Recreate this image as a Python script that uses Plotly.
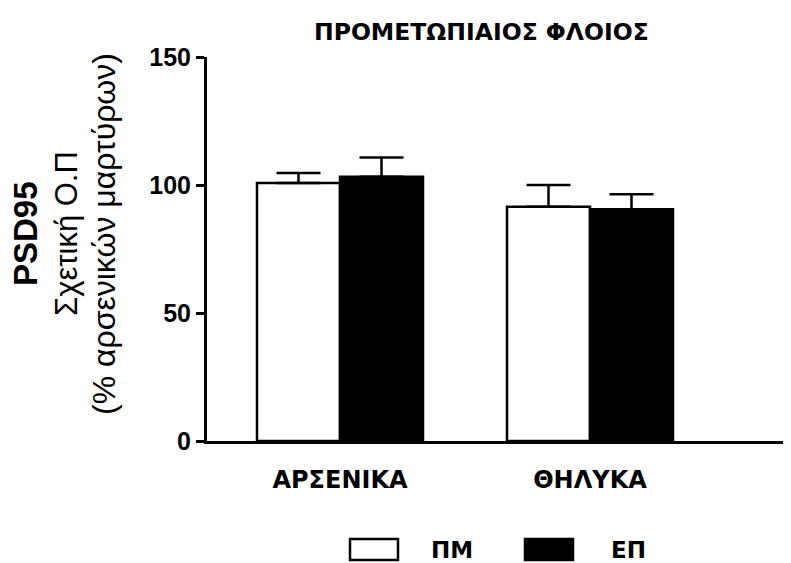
import plotly.graph_objects as go

categories = ["ΑΡΣΕΝΙΚΑ", "ΘΗΛΥΚΑ"]
cat_pos = [0, 1]
pm_values = [100.8, 91.5]
pm_sem = [3.9, 8.5]
ep_values = [103.2, 90.5]
ep_sem = [7.5, 5.9]
series_names = ["ΠΜ", "ΕΠ"]
y_ticks = [0, 50, 100, 150]

OFF = 8  # page body margin
W, H = 791 - OFF, 563 - OFF
L, R, T, B = 207 - OFF, 6, 57 - OFF, 122
pw, ph = W - L - R, H - T - B

def fx(x):
    return (x - OFF - L) / pw

def fy(y):
    return (H - B - (y - OFF)) / ph

fig = go.Figure()
fig.add_trace(go.Bar(
    x=cat_pos, y=pm_values, name=series_names[0],
    marker=dict(color="white", line=dict(color="black", width=2.5)),
    error_y=dict(type="data", symmetric=False, array=pm_sem, arrayminus=[0, 0],
                 color="black", thickness=2.5, width=22),
    showlegend=False,
))
fig.add_trace(go.Bar(
    x=cat_pos, y=ep_values, name=series_names[1],
    marker=dict(color="black", line=dict(color="black", width=2.5)),
    error_y=dict(type="data", symmetric=False, array=ep_sem, arrayminus=[0, 0],
                 color="black", thickness=2.5, width=22),
    showlegend=False,
))

fig.update_layout(
    width=W, height=H,
    margin=dict(l=L, r=R, t=T, b=B),
    paper_bgcolor="white", plot_bgcolor="white",
    barmode="group", bargap=0.336, bargroupgap=0,
    font=dict(family="Liberation Sans, Arial", color="black"),
    showlegend=False,
)
fig.update_yaxes(
    range=[0, 150], tickvals=y_ticks, ticktext=[f"<b>{v}</b>" for v in y_ticks],
    showline=True, linewidth=3, linecolor="black", ticks="outside", ticklen=8,
    tickwidth=2.5, tickcolor="black", showgrid=False, zeroline=False,
    tickfont=dict(size=25, family="Liberation Sans, Arial"),
)
fig.update_xaxes(
    range=[-0.532, 1.78], tickvals=cat_pos, ticktext=[f"<b>{c}</b>" for c in categories],
    showline=True, linewidth=3, linecolor="black", ticks="", showgrid=False,
    zeroline=False, tickfont=dict(size=24, family="DejaVu Sans"), ticklabelstandoff=15,
)

# title
fig.add_annotation(text="<b>ΠΡΟΜΕΤΩΠΙΑΙΟΣ ΦΛΟΙΟΣ</b>", xref="paper", yref="paper",
                   x=fx(481), y=fy(32), xanchor="center", yanchor="middle", showarrow=False,
                   font=dict(size=23.5, family="DejaVu Sans", color="black"))

# y-axis title (three lines)
ytitle = [
    ("<b>PSD95</b>", 25, 33),
    ("Σχετική Ο.Π", 66, 31),
    ("(% αρσενικών μαρτύρων)", 104, 32),
]
for txt, xc, sz in ytitle:
    fig.add_annotation(text=txt, xref="paper", yref="paper", x=fx(xc), y=fy(234),
                       xanchor="center", yanchor="middle", textangle=-90, showarrow=False,
                       font=dict(size=sz, family="Liberation Sans, Arial", color="black"))

# legend drawn manually
legend_items = [(350, 398, "white", 452), (525, 573, "black", 628)]
for (x0, x1, col, tx), name in zip(legend_items, series_names):
    fig.add_shape(type="rect", xref="paper", yref="paper",
                  x0=fx(x0), x1=fx(x1), y0=fy(560), y1=fy(539),
                  fillcolor=col, line=dict(color="black", width=2.5))
    fig.add_annotation(text=f"<b>{name}</b>", xref="paper", yref="paper",
                       x=fx(tx), y=fy(550), xanchor="center", yanchor="middle",
                       showarrow=False, font=dict(size=23, family="DejaVu Sans", color="black"))

fig.write_html("out.html")
